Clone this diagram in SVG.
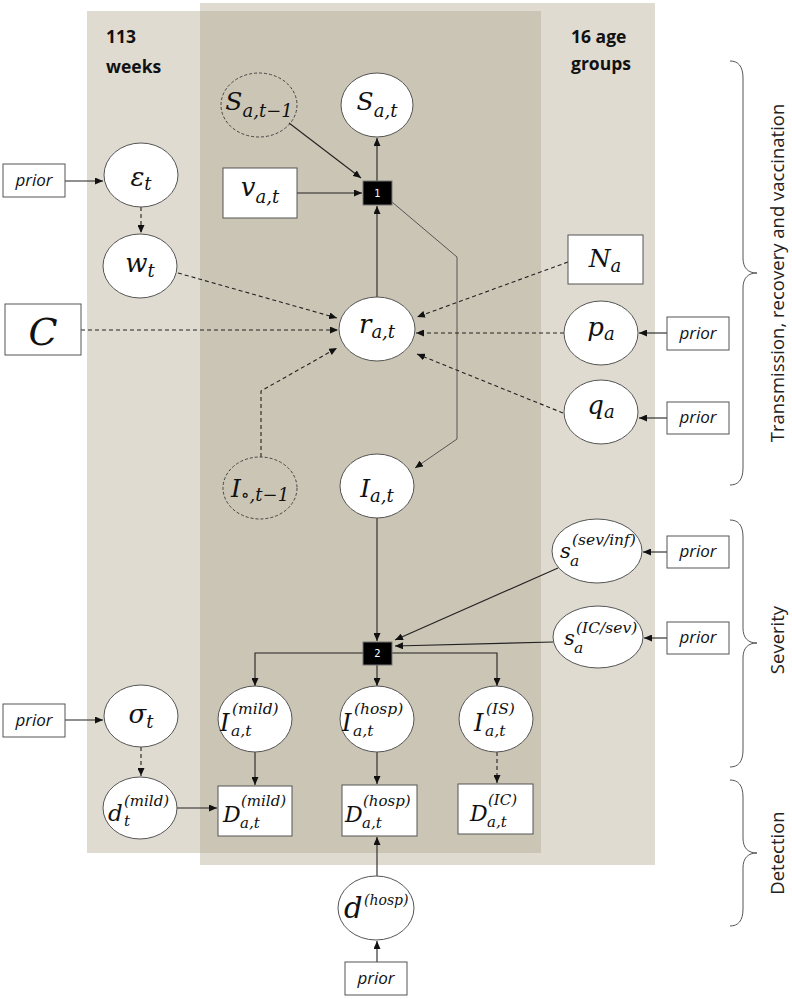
<svg xmlns="http://www.w3.org/2000/svg" width="792" height="999" viewBox="0 0 792 999">
<style>
.light{fill:#dfdbd1}
.dark{fill:#cbc5b5}
.node{fill:#fff;stroke:#555;stroke-width:1}
.lat{fill:none;stroke:#444;stroke-width:1;stroke-dasharray:3,2}
.box{fill:#fff;stroke:#555;stroke-width:1}
.conn{fill:none;stroke:#222;stroke-width:1.1;marker-end:url(#ah)}
.thin{fill:none;stroke:#555;stroke-width:1;marker-end:url(#ah)}
.dash{stroke-dasharray:4,3}
.math{font-family:"DejaVu Serif",serif;font-style:italic;fill:#111}
.mid{text-anchor:middle}
.prior{font-family:"Open Sans","Liberation Sans",sans-serif;font-style:italic;font-size:17px;text-anchor:middle;fill:#111}
.factor{fill:#000;stroke:#777;stroke-width:1}
.flabel{font-family:"DejaVu Sans",sans-serif;font-size:10px;fill:#fff;text-anchor:middle}
.plate{font-family:"Open Sans","Liberation Sans",sans-serif;font-weight:bold;font-size:17.5px;fill:#111}
.side{font-family:"Open Sans","Liberation Sans",sans-serif;font-size:18.5px;fill:#222;text-anchor:middle}
.brace{fill:none;stroke:#555;stroke-width:1}
</style>
<defs>
<marker id="ah" viewBox="0 0 8 7" refX="8" refY="3.5" markerWidth="8" markerHeight="7" markerUnits="userSpaceOnUse" orient="auto"><path d="M0,0L8,3.5L0,7z" fill="#111"/></marker>
</defs>

<g id="plates">
<rect class="light" x="200" y="3" width="455" height="862"/>
<rect class="light" x="87" y="11" width="454" height="842"/>
<rect class="dark" x="200" y="11" width="341" height="842"/>
<text class="plate" x="106" y="43">113</text>
<text class="plate" x="106" y="73">weeks</text>
<text class="plate" x="571" y="43">16 age</text>
<text class="plate" x="571" y="70">groups</text>
</g>

<g id="connectors">
<line class="conn" x1="289" y1="123" x2="361" y2="178"/>
<line class="conn" x1="297" y1="193" x2="362" y2="193"/>
<line class="conn" x1="377" y1="181" x2="377" y2="138"/>
<line class="conn" x1="377" y1="297" x2="377" y2="206"/>
<polyline class="thin" points="392,202 457,257 457,439 415,468"/>
<line class="conn" x1="65" y1="181" x2="103" y2="181"/>
<line class="conn dash" x1="141" y1="207" x2="141" y2="233"/>
<line class="conn dash" x1="178" y1="273" x2="337" y2="318"/>
<line class="conn dash" x1="81" y1="330" x2="338" y2="330"/>
<polyline class="conn dash" points="261,457 261,391 337,348"/>
<line class="conn dash" x1="568" y1="262" x2="417" y2="317"/>
<line class="conn dash" x1="564" y1="333" x2="416" y2="333"/>
<line class="conn dash" x1="563" y1="413" x2="417" y2="354"/>
<line class="conn" x1="667" y1="333" x2="639" y2="333"/>
<line class="conn" x1="667" y1="418" x2="639" y2="418"/>
<line class="conn" x1="377" y1="518" x2="377" y2="641"/>
<polyline class="conn" points="363,653 255,653 255,686"/>
<line class="conn" x1="377" y1="665" x2="377" y2="686"/>
<polyline class="conn" points="392,653 497,653 497,686"/>
<line class="conn" x1="558" y1="568" x2="395" y2="640"/>
<line class="conn" x1="553" y1="642" x2="395" y2="646"/>
<line class="conn" x1="667" y1="552" x2="643" y2="552"/>
<line class="conn" x1="667" y1="638" x2="644" y2="638"/>
<line class="conn" x1="65" y1="720" x2="103" y2="720"/>
<line class="conn dash" x1="141" y1="747" x2="141" y2="776"/>
<line class="conn" x1="255" y1="752" x2="255" y2="785"/>
<line class="conn" x1="377" y1="752" x2="377" y2="784"/>
<line class="conn dash" x1="497" y1="752" x2="497" y2="783"/>
<line class="conn" x1="177" y1="808" x2="217" y2="808"/>
<line class="conn" x1="377" y1="876" x2="377" y2="837"/>
<line class="conn" x1="377" y1="962" x2="377" y2="941"/>
</g>

<g id="n-S-prev"><ellipse class="lat" cx="259" cy="105" rx="38" ry="32"/><text class="math mid" x="259" y="110" font-size="25">S<tspan font-size="18" dy="7">a,t−1</tspan></text></g>
<g id="n-S"><ellipse class="node" cx="377" cy="105" rx="36" ry="32"/><text class="math mid" x="377" y="110" font-size="25">S<tspan font-size="18" dy="7">a,t</tspan></text></g>
<g id="n-prior-eps"><rect class="box" x="3" y="164" width="62" height="33"/><text class="prior" x="34" y="186">prior</text></g>
<g id="n-eps"><ellipse class="node" cx="141" cy="175" rx="37" ry="32"/><text class="math mid" x="141" y="186" font-size="26">ε<tspan font-size="18" dy="4">t</tspan></text></g>
<g id="n-v"><rect class="box" x="223" y="168" width="74" height="50"/><text class="math mid" x="260" y="196" font-size="26">v<tspan font-size="18" dy="7">a,t</tspan></text></g>
<g id="n-f1"><rect class="factor" x="363" y="181" width="29" height="24"/><text class="flabel" x="377.5" y="197">1</text></g>
<g id="n-w"><ellipse class="node" cx="140" cy="266" rx="37" ry="32"/><text class="math mid" x="140" y="272" font-size="26">w<tspan font-size="18" dy="5">t</tspan></text></g>
<g id="n-C"><rect class="box" x="5" y="304" width="76" height="51"/><text class="math mid" x="43" y="345" font-size="38">C</text></g>
<g id="n-r"><ellipse class="node" cx="377" cy="329" rx="38" ry="32"/><text class="math mid" x="377" y="333" font-size="26">r<tspan font-size="18" dy="5">a,t</tspan></text></g>
<g id="n-N"><rect class="box" x="568" y="235" width="75" height="49"/><text class="math mid" x="605" y="267" font-size="25">N<tspan font-size="18" dy="5">a</tspan></text></g>
<g id="n-p"><ellipse class="node" cx="601" cy="333" rx="37" ry="32"/><text class="math mid" x="601" y="336" font-size="26">p<tspan font-size="18" dy="4">a</tspan></text></g>
<g id="n-prior-p"><rect class="box" x="667" y="317" width="62" height="33"/><text class="prior" x="698" y="339">prior</text></g>
<g id="n-q"><ellipse class="node" cx="601" cy="412" rx="37" ry="32"/><text class="math mid" x="601" y="414" font-size="26">q<tspan font-size="18" dy="4">a</tspan></text></g>
<g id="n-prior-q"><rect class="box" x="667" y="402" width="62" height="32"/><text class="prior" x="698" y="423">prior</text></g>
<g id="n-I-prev"><ellipse class="lat" cx="260" cy="488" rx="37" ry="31"/><text class="math mid" x="260" y="497" font-size="25">I<tspan font-size="18" dy="4">∘,t−1</tspan></text></g>
<g id="n-I"><ellipse class="node" cx="377" cy="486" rx="37" ry="32"/><text class="math mid" x="377" y="497" font-size="25">I<tspan font-size="18" dy="5">a,t</tspan></text></g>
<g id="n-s-sev"><ellipse class="node" cx="597" cy="551" rx="45" ry="32"/><text class="math" x="560" y="558" font-size="21">s</text><text class="math" x="572" y="545" font-size="15.5">(sev/inf)</text><text class="math" x="570" y="566" font-size="15.5">a</text></g>
<g id="n-prior-s-sev"><rect class="box" x="667" y="536" width="62" height="32"/><text class="prior" x="698" y="557">prior</text></g>
<g id="n-s-ic"><ellipse class="node" cx="598" cy="637" rx="45" ry="31"/><text class="math" x="564" y="645" font-size="21">s</text><text class="math" x="576" y="633" font-size="15.5">(IC/sev)</text><text class="math" x="574" y="653" font-size="15.5">a</text></g>
<g id="n-prior-s-ic"><rect class="box" x="667" y="622" width="62" height="32"/><text class="prior" x="698" y="643">prior</text></g>
<g id="n-f2"><rect class="factor" x="363" y="642" width="29" height="23"/><text class="flabel" x="377.5" y="657">2</text></g>
<g id="n-prior-sigma"><rect class="box" x="3" y="704" width="62" height="33"/><text class="prior" x="34" y="726">prior</text></g>
<g id="n-sigma"><ellipse class="node" cx="141" cy="716" rx="37" ry="31"/><text class="math mid" x="141" y="723" font-size="26">σ<tspan font-size="18" dy="5">t</tspan></text></g>
<g id="n-I-mild"><ellipse class="node" cx="255" cy="719" rx="37" ry="33"/><text class="math" x="220" y="731" font-size="24">I</text><text class="math" x="232" y="714" font-size="15.5">(mild)</text><text class="math" x="231" y="736" font-size="15.5">a,t</text></g>
<g id="n-I-hosp"><ellipse class="node" cx="377" cy="719" rx="37" ry="33"/><text class="math" x="342" y="731" font-size="24">I</text><text class="math" x="354" y="714" font-size="15.5">(hosp)</text><text class="math" x="353" y="736" font-size="15.5">a,t</text></g>
<g id="n-I-IS"><ellipse class="node" cx="496" cy="719" rx="37" ry="33"/><text class="math" x="474" y="731" font-size="24">I</text><text class="math" x="486" y="714" font-size="15.5">(IS)</text><text class="math" x="485" y="736" font-size="15.5">a,t</text></g>
<g id="n-d-mild"><ellipse class="node" cx="140" cy="808" rx="37" ry="31"/><text class="math" x="108" y="821" font-size="23">d</text><text class="math" x="124" y="806" font-size="15">(mild)</text><text class="math" x="124" y="826" font-size="15">t</text></g>
<g id="n-D-mild"><rect class="box" x="218" y="786" width="74" height="50"/><text class="math" x="223" y="822" font-size="22">D</text><text class="math" x="241" y="806" font-size="15">(mild)</text><text class="math" x="240" y="828" font-size="15">a,t</text></g>
<g id="n-D-hosp"><rect class="box" x="342" y="785" width="75" height="51"/><text class="math" x="345" y="822" font-size="22">D</text><text class="math" x="363" y="806" font-size="15">(hosp)</text><text class="math" x="362" y="828" font-size="15">a,t</text></g>
<g id="n-D-IC"><rect class="box" x="458" y="784" width="75" height="50"/><text class="math" x="470" y="821" font-size="22">D</text><text class="math" x="488" y="805" font-size="15">(IC)</text><text class="math" x="487" y="827" font-size="15">a,t</text></g>
<g id="n-d-hosp"><ellipse class="node" cx="376" cy="908" rx="38" ry="32"/><text class="math" x="344" y="918" font-size="29">d</text><text class="math" x="364" y="905" font-size="14">(hosp)</text></g>
<g id="n-prior-d"><rect class="box" x="345" y="962" width="62" height="33"/><text class="prior" x="376" y="984">prior</text></g>

<g id="sections">
<path class="brace" d="M730,61 C738,61 743,66 743,78 L743,258 C743,268 748,273 757,273 C748,273 743,278 743,288 L743,468 C743,480 738,485 730,485"/>
<path class="brace" d="M730,520 C738,520 743,525 743,537 L743,628 C743,638 748,643 757,643 C748,643 743,648 743,658 L743,750 C743,762 738,767 730,767"/>
<path class="brace" d="M730,780 C738,780 743,785 743,797 L743,838 C743,848 748,853 757,853 C748,853 743,858 743,868 L743,909 C743,921 738,926 730,926"/>
<text class="side" transform="translate(784,273) rotate(-90)">Transmission, recovery and vaccination</text>
<text class="side" transform="translate(784,640) rotate(-90)">Severity</text>
<text class="side" transform="translate(784,853) rotate(-90)">Detection</text>
</g>
</svg>
